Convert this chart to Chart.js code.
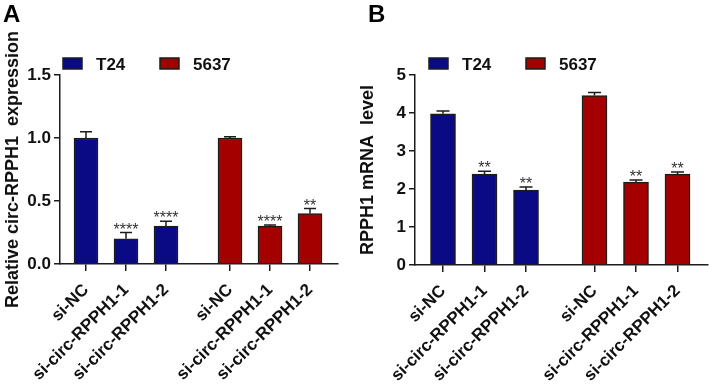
<!DOCTYPE html>
<html lang="en">
<head>
<meta charset="UTF-8" />
<title>circ-RPPH1 knockdown</title>
<script src="https://cdn.jsdelivr.net/npm/chart.js@4.4.1/dist/chart.umd.min.js"></script>
<style>
  body { margin: 0; background: #fff; width: 709px; height: 385px; overflow: hidden; position: relative; }
  canvas { position: absolute; top: 0; }
  #chartA { left: 0; }
  #chartB { left: 355px; }
</style>
</head>
<body>
<canvas id="chartA" width="355" height="385"></canvas>
<canvas id="chartB" width="354" height="385"></canvas>
<script>
// ---- data ----
const cellLines = ['T24', '5637'];
const groups = ['si-NC', 'si-circ-RPPH1-1', 'si-circ-RPPH1-2'];

// panel A: relative circ-RPPH1 expression
const circT24 = [1.0, 0.2, 0.3];
const circT24Err = [0.05, 0.05, 0.04];
const circT24Stars = ['', '****', '****'];
const circ5637 = [1.0, 0.3, 0.4];
const circ5637Err = [0.01, 0.01, 0.04];
const circ5637Stars = ['', '****', '**'];

// panel B: RPPH1 mRNA level
const mrnaT24 = [3.98, 2.39, 1.97];
const mrnaT24Err = [0.07, 0.08, 0.08];
const mrnaT24Stars = ['', '**', '**'];
const mrna5637 = [4.46, 2.18, 2.39];
const mrna5637Err = [0.08, 0.06, 0.06];
const mrna5637Stars = ['', '**', '**'];

const FONT = "'Liberation Sans', Arial, sans-serif";
const BLUE = '#0a0a85';
const RED = '#a40000';
const INK = '#1c1c1c';

// draws error bars, stars, the legend and the panel letter
const extras = {
  id: 'extras',
  afterDatasetsDraw(chart, args, o) {
    const ctx = chart.ctx, y = chart.scales.y;
    ctx.save();
    chart.data.datasets.forEach((ds, di) => {
      chart.getDatasetMeta(di).data.forEach((bar, i) => {
        const v = ds.data[i].y;
        const top = y.getPixelForValue(v + ds.errors[i]);
        const base = y.getPixelForValue(v);
        ctx.strokeStyle = INK;
        ctx.lineWidth = 1.5;
        ctx.beginPath();
        ctx.moveTo(bar.x, base);
        ctx.lineTo(bar.x, top);
        ctx.moveTo(bar.x - o.cap / 2, top);
        ctx.lineTo(bar.x + o.cap / 2, top);
        ctx.stroke();
        if (ds.stars[i]) {
          ctx.fillStyle = '#333';
          ctx.font = '16px ' + FONT;
          ctx.textAlign = 'center';
          ctx.textBaseline = 'alphabetic';
          ctx.fillText(ds.stars[i], bar.x, top + 2);
        }
      });
    });
    ctx.restore();
  },
  afterDraw(chart, args, o) {
    const ctx = chart.ctx;
    ctx.save();
    ctx.fillStyle = '#000';
    ctx.font = 'bold 24px ' + FONT;
    ctx.textBaseline = 'alphabetic';
    ctx.textAlign = 'left';
    ctx.fillText(o.letter, o.letterX, 22);
    chart.data.datasets.forEach((ds, di) => {
      const x = o.legendX[di];
      ctx.fillStyle = ds.backgroundColor;
      ctx.fillRect(x, 58, 19, 11);
      ctx.strokeStyle = INK;
      ctx.lineWidth = 1.5;
      ctx.strokeRect(x, 58, 19, 11);
      ctx.fillStyle = '#111';
      ctx.font = 'bold 17px ' + FONT;
      ctx.fillText(ds.label, x + 33, 70);
    });
    ctx.restore();
  }
};

function drawPanel(id, p) {
  const mk = (label, vals, errs, stars, color, off) => ({
    label: label,
    data: vals.map((v, i) => ({ x: p.slots[i + off], y: v })),
    errors: errs,
    stars: stars,
    backgroundColor: color,
    borderColor: INK,
    borderWidth: 1.5,
    barThickness: p.barWidth,
    grouped: false
  });

  return new Chart(document.getElementById(id), {
    type: 'bar',
    data: {
      datasets: [
        mk(cellLines[0], p.a, p.aErr, p.aStars, BLUE, 0),
        mk(cellLines[1], p.b, p.bErr, p.bStars, RED, 3)
      ]
    },
    options: {
      responsive: false,
      animation: false,
      devicePixelRatio: 1,
      layout: { padding: { top: 75, right: p.padRight, left: 0, bottom: 0 } },
      plugins: {
        legend: { display: false },
        tooltip: { enabled: false },
        extras: { letter: p.letter, letterX: p.letterX, legendX: p.legendX, cap: p.cap }
      },
      scales: {
        x: {
          type: 'linear',
          min: p.xMin,
          max: p.xMax,
          offset: false,
          grid: { display: true, offset: false, drawOnChartArea: false, drawTicks: true, tickLength: 7, color: INK, lineWidth: 1.5 },
          border: { display: true, color: INK, width: 1.5 },
          afterBuildTicks: s => { s.ticks = p.slots.map(v => ({ value: v })); },
          afterFit: s => { s.height = p.xHeight; s.paddingLeft = 0; s.paddingRight = 0; },
          ticks: {
            autoSkip: false,
            maxRotation: 45,
            minRotation: 45,
            padding: 9,
            color: '#111',
            font: { family: FONT, size: 17, weight: 'bold' },
            callback: (v, i) => groups[i % 3]
          }
        },
        y: {
          min: 0,
          max: p.yMax,
          grid: { display: true, drawOnChartArea: false, drawTicks: true, tickLength: 6, color: INK, lineWidth: 1.5 },
          border: { display: true, color: INK, width: 1.5 },
          afterFit: s => { s.width = 60; s.paddingTop = 0; s.paddingBottom = 0; },
          title: {
            display: true,
            text: p.title,
            color: '#111',
            padding: { top: 2, bottom: 0 },
            font: { family: FONT, size: 18, weight: 'bold' }
          },
          ticks: {
            stepSize: p.yStep,
            padding: 3,
            color: '#111',
            font: { family: FONT, size: 17, weight: 'bold' },
            callback: v => v.toFixed(p.decimals)
          }
        }
      }
    },
    plugins: [extras]
  });
}

drawPanel('chartA', {
  letter: 'A', letterX: 3, legendX: [63, 160],
  title: 'Relative circ-RPPH1  expression',
  a: circT24, aErr: circT24Err, aStars: circT24Stars,
  b: circ5637, bErr: circ5637Err, bStars: circ5637Stars,
  yMax: 1.5, yStep: 0.5, decimals: 1,
  slots: [0, 1, 2, 3.6, 4.6, 5.6], xMin: -0.65, xMax: 6.3,
  barWidth: 24, cap: 12, padRight: 17, xHeight: 121
});

drawPanel('chartB', {
  letter: 'B', letterX: 13, legendX: [74, 171],
  title: 'RPPH1 mRNA  level',
  a: mrnaT24, aErr: mrnaT24Err, aStars: mrnaT24Stars,
  b: mrna5637, bErr: mrna5637Err, bStars: mrna5637Stars,
  yMax: 5, yStep: 1, decimals: 0,
  slots: [0, 1, 2, 3.65, 4.65, 5.65], xMin: -0.675, xMax: 6.385,
  barWidth: 25, cap: 13, padRight: 1, xHeight: 120
});
</script>
</body>
</html>
